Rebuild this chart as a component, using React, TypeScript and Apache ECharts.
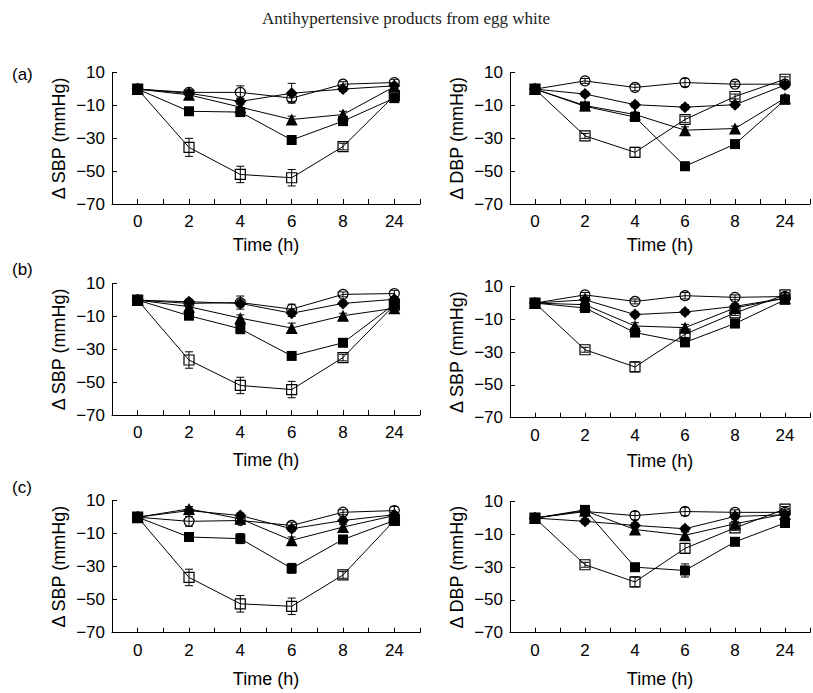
import React, { useEffect, useRef } from 'react';
import * as echarts from 'echarts';

const categories = ['0', '2', '4', '6', '8', '24'];
const seriesNames = ['Group ○', 'Group ◆', 'Group ▲', 'Group ■', 'Group □'];
const yTickValues = [-70, -50, -30, -10, 10];

// Panel (a) — systolic (left) and diastolic (right)
const aSBP = [
  [0, -2, -2, -5.5, 3, 4],
  [0, -2.5, -7.5, -2.5, 0, 2],
  [0, -3.5, -11, -18.5, -15.5, 1.5],
  [0, -13.5, -14, -31, -19.5, -5.5],
  [0, -35.5, -52, -54, -35, -4],
];
const aSBPErr = [
  [0, 1.5, 4, 2, 1.5, 2],
  [0, 1.5, 2, 6, 1.5, 1.5],
  [0, 1.5, 2, 2, 2, 1.5],
  [0, 1.5, 2.5, 2, 2, 1.5],
  [0, 5.5, 5, 5, 2, 1.5],
];
const aDBP = [
  [0, 5, 1, 4, 3, 3],
  [0, -3, -9.5, -11, -9.5, 2.5],
  [0, -10, -15.5, -25, -24, -5.5],
  [0, -10.5, -17, -47, -33.5, -6.5],
  [0, -28.5, -38.5, -18.5, -4.5, 6],
];
const aDBPErr = [
  [0, 1.5, 2, 2.5, 1.5, 1.5],
  [0, 1.5, 1.5, 1.5, 1.5, 1.5],
  [0, 1.5, 1.5, 2, 1.5, 2],
  [0, 1.5, 2, 2.5, 2, 2],
  [0, 1.5, 3, 2, 1.5, 1.5],
];

// Panel (b)
const bSBP = [
  [0, -2, -1.5, -5.5, 3.5, 4],
  [0, -1, -2, -8, -2, 0.5],
  [0, -4, -11, -17, -9.5, -5],
  [0, -9.5, -17.5, -34, -26, -2.5],
  [0, -36.5, -52, -54.5, -35, -3],
];
const bSBPErr = [
  [0, 1.5, 4, 3, 1.5, 2],
  [0, 1.5, 2, 2, 1.5, 1.5],
  [0, 1.5, 2, 3, 1.5, 1.5],
  [0, 1.5, 3, 2, 2, 1.5],
  [0, 5, 5, 5, 2, 1.5],
];
const bSBP2 = [
  [0, 5, 1, 4.5, 3.5, 4],
  [0, 2, -7, -5.5, -2, 3],
  [0, -1, -14, -15, -3, 3],
  [0, -3, -18, -24, -12.5, 2],
  [0, -28.5, -39, -19, -6, 5],
];
const bSBP2Err = [
  [0, 1.5, 1.5, 2, 1.5, 1.5],
  [0, 1.5, 1.5, 1.5, 1.5, 1.5],
  [0, 1.5, 2, 2, 1.5, 1.5],
  [0, 1.5, 2, 2, 1.5, 1.5],
  [0, 1.5, 3, 2, 1.5, 1.5],
];

// Panel (c)
const cSBP = [
  [0, -2.5, -2, -5, 3, 4],
  [0, 4, 1, -7, -2, 1.5],
  [0, 5, -1, -14, -6, 1],
  [0, -12, -13, -31, -13.5, -2],
  [0, -36.5, -52.5, -54, -35, -2],
];
const cSBPErr = [
  [0, 3, 1.5, 2, 1.5, 2.5],
  [0, 1.5, 1.5, 1.5, 1.5, 1.5],
  [0, 1.5, 1.5, 2, 1.5, 1.5],
  [0, 1.5, 3, 3, 2, 1.5],
  [0, 5, 5, 5, 2, 1.5],
];
const cDBP = [
  [0, 4, 1.5, 4, 3.5, 3.5],
  [0, -2, -4.5, -6.5, 1, 2],
  [0, 4.5, -7, -10.5, -3.5, 2.5],
  [0, 5, -30, -32, -14.5, -3],
  [0, -28.5, -39, -18.5, -6, 5.5],
];
const cDBPErr = [
  [0, 1.5, 2.5, 2.5, 1.5, 1.5],
  [0, 1.5, 1.5, 1.5, 1.5, 1.5],
  [0, 1.5, 1.5, 2, 1.5, 1.5],
  [0, 1.5, 2, 4, 1.5, 1.5],
  [0, 1.5, 3, 3, 1.5, 1.5],
];

const panelData = [
  { yName: 'Δ SBP (mmHg)', values: aSBP, errors: aSBPErr },
  { yName: 'Δ DBP (mmHg)', values: aDBP, errors: aDBPErr },
  { yName: 'Δ SBP (mmHg)', values: bSBP, errors: bSBPErr },
  { yName: 'Δ SBP (mmHg)', values: bSBP2, errors: bSBP2Err },
  { yName: 'Δ SBP (mmHg)', values: cSBP, errors: cSBPErr },
  { yName: 'Δ DBP (mmHg)', values: cDBP, errors: cDBPErr },
];

// layout (pixels)
const panelBoxes = [
  { left: 112, top: 72.7, height: 131.3, nameGap: 32 },
  { left: 510, top: 72.7, height: 131.3, nameGap: 32 },
  { left: 112, top: 283.7, height: 131.3, nameGap: 36 },
  { left: 510, top: 286.7, height: 131, nameGap: 34 },
  { left: 112, top: 500.7, height: 132, nameGap: 37 },
  { left: 510, top: 501.7, height: 131, nameGap: 37 },
];
const GRID_W = 308;

const markerStyles = [
  { symbol: 'circle', size: 10, filled: false },
  { symbol: 'diamond', size: 12, filled: true },
  { symbol: 'triangle', size: 12, filled: true },
  { symbol: 'rect', size: 10, filled: true },
  { symbol: 'rect', size: 10, filled: false },
];

const FONT = 'Liberation Sans';
const fmtY = (v: number) => (v < 0 ? '\u2212' + Math.abs(v) : String(v));

function buildOption() {
  const grid: any[] = [];
  const xAxis: any[] = [];
  const yAxis: any[] = [];
  const series: any[] = [];

  panelData.forEach((p, gi) => {
    const box = panelBoxes[gi];
    grid.push({ left: box.left, top: box.top, width: GRID_W, height: box.height, containLabel: false });
    xAxis.push({
      type: 'value',
      gridIndex: gi,
      min: -0.5,
      max: 5.5,
      interval: 0.5,
      name: 'Time (h)',
      nameLocation: 'middle',
      nameGap: box.nameGap,
      nameTextStyle: { fontFamily: FONT, fontSize: 18, color: '#000' },
      axisLine: { onZero: false, lineStyle: { color: '#000', width: 1 } },
      axisTick: { inside: true, length: 5, lineStyle: { color: '#000', width: 1 } },
      axisLabel: {
        margin: 9,
        fontFamily: FONT,
        fontSize: 17,
        color: '#000',
        showMinLabel: true,
        showMaxLabel: true,
        formatter: (v: number) => {
          const r = Math.round(v);
          return Math.abs(v - r) < 1e-6 && r >= 0 && r < categories.length ? categories[r] : '';
        },
      },
      splitLine: { show: false },
    });
    yAxis.push({
      type: 'value',
      gridIndex: gi,
      min: -70,
      max: 10,
      name: p.yName,
      nameLocation: 'middle',
      nameGap: 44,
      nameTextStyle: { fontFamily: FONT, fontSize: 18, color: '#000' },
      axisLine: { show: true, onZero: false, lineStyle: { color: '#000', width: 1 } },
      axisTick: { show: true, inside: true, length: 5, customValues: yTickValues, lineStyle: { color: '#000', width: 1 } },
      axisLabel: { margin: 7, fontFamily: FONT, fontSize: 17, color: '#000', customValues: yTickValues, formatter: fmtY },
      splitLine: { show: false },
    });

    p.values.forEach((vals, si) => {
      const errs = p.errors[si];
      series.push({
        type: 'custom',
        name: seriesNames[si] + ' SEM',
        xAxisIndex: gi,
        yAxisIndex: gi,
        z: 1,
        clip: false,
        silent: true,
        encode: { x: 0, y: [1, 2] },
        data: vals.map((v, i) => [i, v - errs[i], v + errs[i]]).filter((d, i) => errs[i] > 0),
        renderItem: (params: any, api: any) => {
          const x = api.value(0);
          const lo = api.coord([x, api.value(1)]);
          const hi = api.coord([x, api.value(2)]);
          const w = 4;
          const style = { stroke: '#000', lineWidth: 1 };
          return {
            type: 'group',
            children: [
              { type: 'line', shape: { x1: lo[0], y1: lo[1], x2: hi[0], y2: hi[1] }, style },
              { type: 'line', shape: { x1: lo[0] - w, y1: lo[1], x2: lo[0] + w, y2: lo[1] }, style },
              { type: 'line', shape: { x1: hi[0] - w, y1: hi[1], x2: hi[0] + w, y2: hi[1] }, style },
            ],
          };
        },
      });
    });

    p.values.forEach((vals, si) => {
      const m = markerStyles[si];
      series.push({
        type: 'line',
        name: seriesNames[si],
        xAxisIndex: gi,
        yAxisIndex: gi,
        z: 2 + si,
        data: vals.map((v, i) => [i, v]),
        symbol: m.symbol,
        symbolSize: m.size,
        showAllSymbol: true,
        clip: false,
        silent: true,
        lineStyle: { color: '#000', width: 1 },
        itemStyle: m.filled
          ? { color: '#000', borderWidth: 0 }
          : { color: 'rgba(255,255,255,0)', borderColor: '#000', borderWidth: 1.2 },
        emphasis: { disabled: true },
      });
    });
  });

  const graphic: any[] = [
    {
      type: 'text',
      x: 406,
      y: 18,
      style: {
        text: 'Antihypertensive products from egg white',
        font: '17px "Liberation Serif"',
        fill: '#222',
        align: 'center',
        verticalAlign: 'middle',
      },
    },
    { type: 'text', x: 12, y: 74, style: { text: '(a)', font: `17px "${FONT}"`, fill: '#000', verticalAlign: 'middle' } },
    { type: 'text', x: 12, y: 269, style: { text: '(b)', font: `17px "${FONT}"`, fill: '#000', verticalAlign: 'middle' } },
    { type: 'text', x: 12, y: 487, style: { text: '(c)', font: `17px "${FONT}"`, fill: '#000', verticalAlign: 'middle' } },
  ];

  return {
    animation: false,
    backgroundColor: '#fff',
    textStyle: { fontFamily: FONT },
    grid,
    xAxis,
    yAxis,
    series,
    graphic,
  };
}

export default function App() {
  const ref = useRef<HTMLDivElement>(null);
  useEffect(() => {
    if (!ref.current) return;
    const chart = echarts.init(ref.current, null, { renderer: 'svg' });
    chart.setOption(buildOption() as any);
    return () => chart.dispose();
  }, []);
  return (
    <div
      ref={ref}
      style={{ position: 'absolute', left: 0, top: 0, width: 813, height: 693, background: '#fff' }}
    />
  );
}
